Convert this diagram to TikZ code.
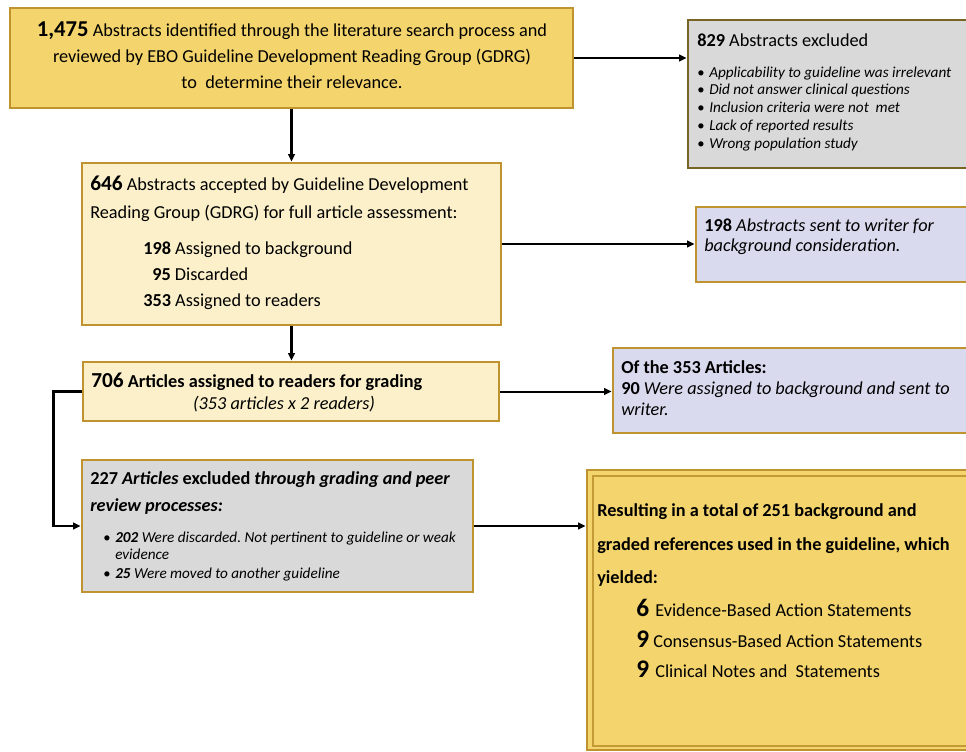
\documentclass[tikz,border=0pt]{standalone}
\usepackage{fontspec}
\setmainfont{Carlito}
\usetikzlibrary{arrows.meta,fit}
\definecolor{goldb}{HTML}{BF9430}
\definecolor{darkb}{HTML}{7A6424}
\definecolor{yelf}{HTML}{F4D46C}
\definecolor{creamf}{HTML}{FBF0C9}
\definecolor{grayf}{HTML}{D9D9D9}
\definecolor{lavf}{HTML}{DADAEF}
\frenchspacing
\begin{document}
\begin{tikzpicture}[x=0.75pt,y=-0.75pt,
  box/.style={draw=goldb, line width=2.2pt, inner sep=0pt},
  txt/.style={anchor=base west, inner sep=0pt, font=\fontsize{13.7}{16}\selectfont},
  ctxt/.style={anchor=base, inner sep=0pt, font=\fontsize{13.7}{16}\selectfont},
  small/.style={anchor=base west, inner sep=0pt, font=\fontsize{11.4}{13}\selectfont\itshape},
  bul/.style={anchor=base east, inner sep=0pt, font=\fontsize{11}{12}\selectfont},
  conn/.style={line width=2.2pt, -{Triangle[length=5.5pt,width=5pt]}},
  thinconn/.style={line width=1.5pt, -{Triangle[length=5.5pt,width=5pt]}}]
\useasboundingbox (0,0) rectangle (966,751);
% boxes
\node[box, fill=yelf, fit={(10,8)(573,108)}] (b1) {};
\node[box, draw=darkb, fill=grayf, fit={(688,20)(975,168)}] (b2) {};
\node[box, fill=creamf, fit={(82,163)(501,325)}] (b3) {};
\node[box, fill=lavf, fit={(696,207)(975,282)}] (b4) {};
\node[box, fill=creamf, fit={(83,362)(499,421)}] (b5) {};
\node[box, fill=lavf, fit={(613,348)(975,433)}] (b6) {};
\node[box, fill=grayf, fit={(82,460)(473,592)}] (b7) {};
\node[box, fill=yelf, fit={(587,470)(975,750)}] (b8) {};
\node[draw=goldb!90!yelf, line width=1.3pt, inner sep=0pt, fit={(593,476)(975,746)}] (b8in) {};
% texts box 1
\node[ctxt] (t1a) at (292,36) {\textbf{\fontsize{17}{18}\selectfont 1,475} Abstracts identified through the literature search process and};
\node[ctxt] (t1b) at (292,62) {reviewed by EBO Guideline Development Reading Group (GDRG)};
\node[ctxt] (t1c) at (292,88) {to\ \ determine their relevance.};
% box 2
\node[txt] (t2a) at (697,46) {\textbf{829} Abstracts excluded};
\foreach \yy/\tt [count=\i] in {77/Applicability to guideline was irrelevant,94/Did not answer clinical questions,112/Inclusion criteria were not\ \ met,130/Lack of reported results,148/Wrong population study}{
  \node[bul] (bu\i) at (705,\yy) {\textbullet};
  \node[small] (it\i) at (709,\yy) {\tt};
}
% box 3
\node[txt] (t3a) at (90,190) {\textbf{\fontsize{16}{18}\selectfont 646} Abstracts accepted by Guideline Development};
\node[txt] (t3b) at (90,218) {Reading Group (GDRG) for full article assessment:};
\node[txt] (t3c) at (143,254) {\textbf{198} Assigned to background};
\node[txt] (t3d) at (152,280) {\textbf{95} Discarded};
\node[txt] (t3e) at (143,306) {\textbf{353} Assigned to readers};
% box 4
\node[txt] (t4a) at (704,231) {\textbf{198} \textit{Abstracts sent to writer for}};
\node[txt] (t4b) at (704,251) {\textit{background consideration.}};
% box 5
\node[txt] (t5a) at (91,387) {\textbf{\fontsize{16}{18}\selectfont 706} \textbf{Articles assigned to readers for grading}};
\node[ctxt] (t5b) at (284,409) {\textit{(353 articles x 2 readers)}};
% box 6
\node[txt] (t6a) at (621,373) {\textbf{Of the 353 Articles:}};
\node[txt] (t6b) at (621,394) {\textbf{90} \textit{Were assigned to background and sent to}};
\node[txt] (t6c) at (621,415) {\textit{writer.}};
% box 7
\node[txt] (t7a) at (90,484) {\textbf{227 \textit{Articles} excluded \textit{through grading and peer}}};
\node[txt] (t7b) at (90,511) {\textbf{\textit{review processes:}}};
\node[bul] (bu7a) at (111,542) {\textbullet};
\node[small] (t7c) at (115,542) {\textbf{202} Were discarded. Not pertinent to guideline or weak};
\node[small] (t7d) at (115,559) {evidence};
\node[bul] (bu7b) at (111,578) {\textbullet};
\node[small] (t7e) at (115,578) {\textbf{25} Were moved to another guideline};
% box 8
\node[txt] (t8a) at (597,516) {\textbf{Resulting in a total of 251 background and}};
\node[txt] (t8b) at (597,550) {\textbf{graded references used in the guideline, which}};
\node[txt] (t8c) at (597,583) {\textbf{yielded:}};
\node[txt] (n1) at (636,616) {\textbf{\fontsize{19}{20}\selectfont 6}};
\node[txt] (s1) at (655,616) {Evidence-Based Action Statements};
\node[txt] (n2) at (636,647) {\textbf{\fontsize{19}{20}\selectfont 9}};
\node[txt] (s2) at (653,647) {Consensus-Based Action Statements};
\node[txt] (n3) at (636,677) {\textbf{\fontsize{19}{20}\selectfont 9}};
\node[txt] (s3) at (655,677) {Clinical Notes and\ \ Statements};
% connectors
\draw[conn] (b1.east) -- (b1.east -| b2.west);
\draw[conn] (b1.south) -- (b1.south |- b3.north);
\draw[thinconn] (b3.east) -- (b3.east -| b4.west);
\draw[conn] (b3.south) -- (b3.south |- b5.north);
\draw[thinconn] (b5.east) -- (b5.east -| b6.west);
\draw[conn] (b5.west) -- ++(-28,0) |- (b7.west);
\draw[thinconn] (b7.east) -- (b7.east -| b8.west);
\end{tikzpicture}
\end{document}
